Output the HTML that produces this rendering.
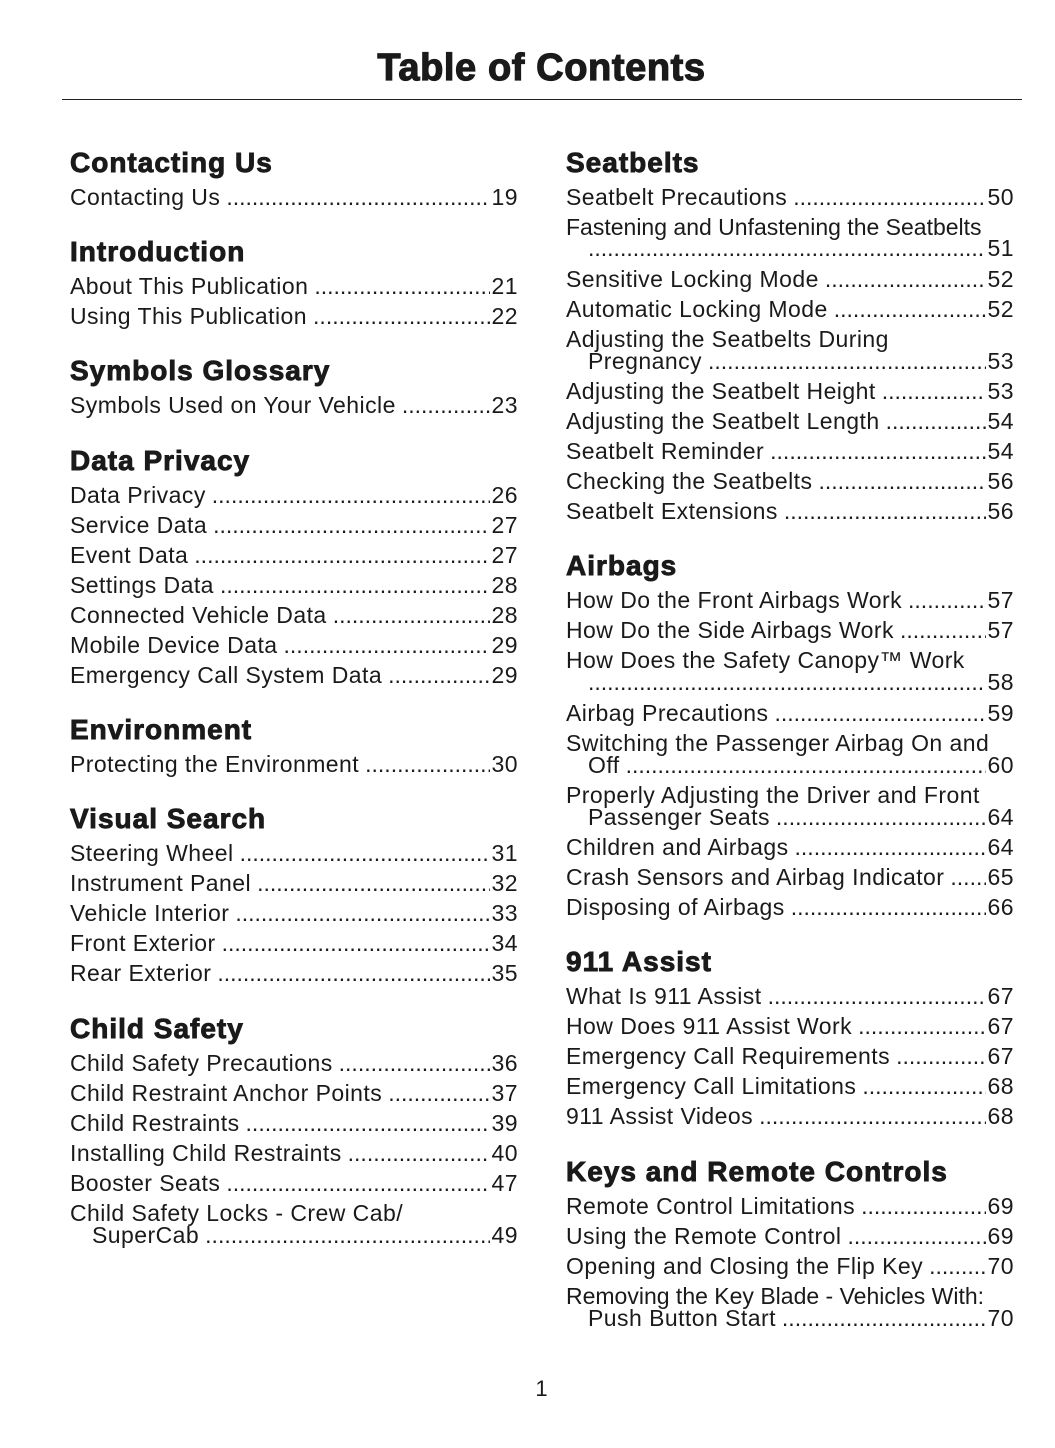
<!DOCTYPE html>
<html><head><meta charset="utf-8"><style>
html,body{margin:0;padding:0;background:#fff}
body{width:1055px;height:1448px;position:relative;overflow:hidden;font-family:"Liberation Sans",sans-serif;color:#1a1a1a}
.t{position:absolute;left:0;width:1083px;top:46px;text-align:center;font-weight:900;font-size:38px;letter-spacing:0.6px;line-height:44px;-webkit-text-stroke:1.2px #1a1a1a}
.rule{position:absolute;left:62px;width:960px;top:99px;height:0;border-top:1.5px solid #222}
.h,.e{position:absolute;white-space:nowrap}
.h{font-weight:900;font-size:28px;line-height:30px;letter-spacing:1px;-webkit-text-stroke:0.9px #1a1a1a}
.e{font-size:23px;line-height:26px;display:flex;width:448px;letter-spacing:0.45px}
.L{left:70px}.R{left:566px}
.e.i{padding-left:22px;width:426px}
.e .d{flex:1;overflow:hidden;margin:0 2px 0 6px;letter-spacing:0}
.e .d::before{content:"....................................................................................................................................................................................................................................................................."}
.pg{position:absolute;left:0;width:1083px;top:1376px;text-align:center;font-size:22px}
</style></head><body>
<div class="t">Table of Contents</div>
<div class="rule"></div>

<div class="h L" style="top:148px">Contacting Us</div>
<div class="e L" style="top:184px"><span>Contacting Us</span><span class="d"></span><span>19</span></div>
<div class="h L" style="top:237px">Introduction</div>
<div class="e L" style="top:273px"><span>About This Publication</span><span class="d"></span><span>21</span></div>
<div class="e L" style="top:303px"><span>Using This Publication</span><span class="d"></span><span>22</span></div>
<div class="h L" style="top:356px">Symbols Glossary</div>
<div class="e L" style="top:392px"><span>Symbols Used on Your Vehicle</span><span class="d"></span><span>23</span></div>
<div class="h L" style="top:446px">Data Privacy</div>
<div class="e L" style="top:482px"><span>Data Privacy</span><span class="d"></span><span>26</span></div>
<div class="e L" style="top:512px"><span>Service Data</span><span class="d"></span><span>27</span></div>
<div class="e L" style="top:542px"><span>Event Data</span><span class="d"></span><span>27</span></div>
<div class="e L" style="top:572px"><span>Settings Data</span><span class="d"></span><span>28</span></div>
<div class="e L" style="top:602px"><span>Connected Vehicle Data</span><span class="d"></span><span>28</span></div>
<div class="e L" style="top:632px"><span>Mobile Device Data</span><span class="d"></span><span>29</span></div>
<div class="e L" style="top:662px"><span>Emergency Call System Data</span><span class="d"></span><span>29</span></div>
<div class="h L" style="top:715px">Environment</div>
<div class="e L" style="top:751px"><span>Protecting the Environment</span><span class="d"></span><span>30</span></div>
<div class="h L" style="top:804px">Visual Search</div>
<div class="e L" style="top:840px"><span>Steering Wheel</span><span class="d"></span><span>31</span></div>
<div class="e L" style="top:870px"><span>Instrument Panel</span><span class="d"></span><span>32</span></div>
<div class="e L" style="top:900px"><span>Vehicle Interior</span><span class="d"></span><span>33</span></div>
<div class="e L" style="top:930px"><span>Front Exterior</span><span class="d"></span><span>34</span></div>
<div class="e L" style="top:960px"><span>Rear Exterior</span><span class="d"></span><span>35</span></div>
<div class="h L" style="top:1014px">Child Safety</div>
<div class="e L" style="top:1050px"><span>Child Safety Precautions</span><span class="d"></span><span>36</span></div>
<div class="e L" style="top:1080px"><span>Child Restraint Anchor Points</span><span class="d"></span><span>37</span></div>
<div class="e L" style="top:1110px"><span>Child Restraints</span><span class="d"></span><span>39</span></div>
<div class="e L" style="top:1140px"><span>Installing Child Restraints</span><span class="d"></span><span>40</span></div>
<div class="e L" style="top:1170px"><span>Booster Seats</span><span class="d"></span><span>47</span></div>
<div class="e L" style="top:1200px"><span>Child Safety Locks - Crew Cab/</span></div>
<div class="e L i" style="top:1222px"><span>SuperCab</span><span class="d"></span><span>49</span></div>

<div class="h R" style="top:148px">Seatbelts</div>
<div class="e R" style="top:184px"><span>Seatbelt Precautions</span><span class="d"></span><span>50</span></div>
<div class="e R" style="top:214px"><span style="letter-spacing:0">Fastening and Unfastening the Seatbelts</span></div>
<div class="e R i" style="top:235px"><span class="d" style="margin-left:0"></span><span>51</span></div>
<div class="e R" style="top:266px"><span>Sensitive Locking Mode</span><span class="d"></span><span>52</span></div>
<div class="e R" style="top:296px"><span>Automatic Locking Mode</span><span class="d"></span><span>52</span></div>
<div class="e R" style="top:326px"><span>Adjusting the Seatbelts During</span></div>
<div class="e R i" style="top:348px"><span>Pregnancy</span><span class="d"></span><span>53</span></div>
<div class="e R" style="top:378px"><span>Adjusting the Seatbelt Height</span><span class="d"></span><span>53</span></div>
<div class="e R" style="top:408px"><span>Adjusting the Seatbelt Length</span><span class="d"></span><span>54</span></div>
<div class="e R" style="top:438px"><span>Seatbelt Reminder</span><span class="d"></span><span>54</span></div>
<div class="e R" style="top:468px"><span>Checking the Seatbelts</span><span class="d"></span><span>56</span></div>
<div class="e R" style="top:498px"><span>Seatbelt Extensions</span><span class="d"></span><span>56</span></div>
<div class="h R" style="top:551px">Airbags</div>
<div class="e R" style="top:587px"><span>How Do the Front Airbags Work</span><span class="d"></span><span>57</span></div>
<div class="e R" style="top:617px"><span>How Do the Side Airbags Work</span><span class="d"></span><span>57</span></div>
<div class="e R" style="top:647px"><span>How Does the Safety Canopy™ Work</span></div>
<div class="e R i" style="top:669px"><span class="d" style="margin-left:0"></span><span>58</span></div>
<div class="e R" style="top:700px"><span>Airbag Precautions</span><span class="d"></span><span>59</span></div>
<div class="e R" style="top:730px"><span>Switching the Passenger Airbag On and</span></div>
<div class="e R i" style="top:752px"><span>Off</span><span class="d"></span><span>60</span></div>
<div class="e R" style="top:782px"><span>Properly Adjusting the Driver and Front</span></div>
<div class="e R i" style="top:804px"><span>Passenger Seats</span><span class="d"></span><span>64</span></div>
<div class="e R" style="top:834px"><span>Children and Airbags</span><span class="d"></span><span>64</span></div>
<div class="e R" style="top:864px"><span>Crash Sensors and Airbag Indicator</span><span class="d"></span><span>65</span></div>
<div class="e R" style="top:894px"><span>Disposing of Airbags</span><span class="d"></span><span>66</span></div>
<div class="h R" style="top:947px">911 Assist</div>
<div class="e R" style="top:983px"><span>What Is 911 Assist</span><span class="d"></span><span>67</span></div>
<div class="e R" style="top:1013px"><span>How Does 911 Assist Work</span><span class="d"></span><span>67</span></div>
<div class="e R" style="top:1043px"><span>Emergency Call Requirements</span><span class="d"></span><span>67</span></div>
<div class="e R" style="top:1073px"><span>Emergency Call Limitations</span><span class="d"></span><span>68</span></div>
<div class="e R" style="top:1103px"><span>911 Assist Videos</span><span class="d"></span><span>68</span></div>
<div class="h R" style="top:1157px">Keys and Remote Controls</div>
<div class="e R" style="top:1193px"><span>Remote Control Limitations</span><span class="d"></span><span>69</span></div>
<div class="e R" style="top:1223px"><span>Using the Remote Control</span><span class="d"></span><span>69</span></div>
<div class="e R" style="top:1253px"><span>Opening and Closing the Flip Key</span><span class="d"></span><span>70</span></div>
<div class="e R" style="top:1283px"><span style="letter-spacing:0">Removing the Key Blade - Vehicles With:</span></div>
<div class="e R i" style="top:1305px"><span>Push Button Start</span><span class="d"></span><span>70</span></div>

<div class="pg">1</div>
</body></html>
